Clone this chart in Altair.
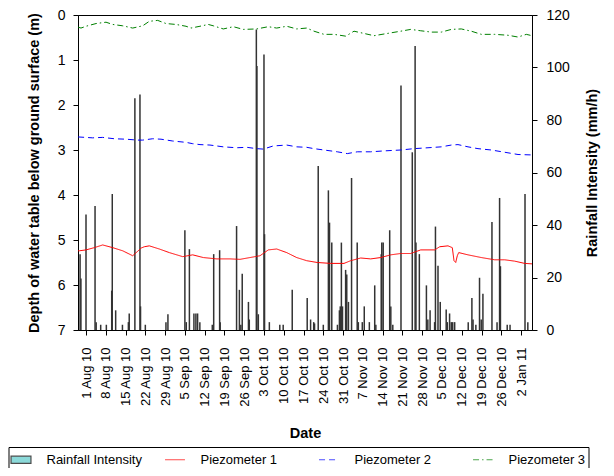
import altair as alt
import pandas as pd

BASE = pd.Timestamp("2010-08-01")

# ---- rainfall intensity bars (day offset from 1 Aug 2010, mm/h) ----
rain_day = [-2.1, -1.8, 0.0, 3.2, 3.6, 5.2, 7.2, 9.1, 9.3, 10.5, 12.9, 15.0, 15.3, 17.3, 19.1,
            19.3, 21.0, 28.3, 29.0, 35.0, 35.5, 36.6, 38.2, 38.9, 39.5, 40.3, 44.7, 45.2, 47.3,
            47.5, 53.3, 54.3, 54.8, 55.3, 57.5, 57.8, 60.3, 60.5, 61.0, 63.0, 63.2, 64.9, 68.6,
            69.8, 73.0, 78.3, 79.5, 80.6, 80.9, 82.2, 84.0, 85.8, 86.2, 87.0, 89.0, 89.7, 90.0,
            90.4, 90.8, 91.9, 92.3, 92.9, 94.0, 96.0, 96.4, 97.8, 98.5, 100.3, 102.2, 102.6,
            104.5, 104.7, 105.2, 107.5, 107.9, 108.6, 111.5, 115.5, 116.5, 116.8, 118.0, 120.5,
            121.0, 121.8, 123.4, 123.7, 124.6, 125.4, 127.5, 127.9, 128.7, 129.3, 129.8, 130.5,
            135.3, 136.6, 137.0, 138.0, 139.3, 139.9, 140.5, 143.7, 145.5, 146.4, 146.7, 149.1,
            150.1, 155.4, 156.4]
rain_mm = [28.9, 19.6, 44.0, 47.2, 3.0, 2.0, 2.0, 15.0, 51.8, 7.5, 2.0, 3.0, 6.3, 88.3, 89.7,
           9.0, 2.0, 3.0, 6.0, 38.0, 3.0, 30.8, 6.3, 6.3, 6.3, 3.0, 2.0, 28.9, 30.4,
           3.0, 39.6, 15.3, 2.0, 21.4, 10.7, 4.0, 114.5, 100.6, 6.0, 105.0, 36.5, 3.0, 2.0,
           2.0, 15.3, 12.2, 4.0, 3.0, 2.5, 62.5, 2.0, 53.2, 40.9, 33.3, 2.0, 7.5, 9.0,
           33.3, 9.0, 22.9, 21.1, 10.7, 57.9, 33.3, 3.0, 3.0, 9.0, 3.0, 17.0, 2.0,
           28.9, 33.3, 33.3, 38.0, 9.0, 2.0, 93.1, 67.7, 108.2, 33.3, 28.9, 17.0,
           4.0, 7.5, 3.0, 39.4, 24.5, 10.7, 7.8, 3.0, 6.3, 3.0, 3.0, 3.0,
           3.0, 12.2, 4.0, 2.0, 19.9, 4.0, 13.8, 41.1, 3.0, 50.3, 24.3, 2.0,
           2.0, 51.8, 3.0]

# ---- piezometer depths (m below ground) ----
p1_day = [-2.8, -2.37, 0, 2.94, 5.91, 9.45, 12.99, 16.53, 18.3, 19.47, 20.64, 22.41, 25.95,
          29.49, 34.23, 37.77, 41.52, 46.27, 50.97, 54.51, 58.05, 61.59, 64.53, 67.5, 71.04,
          74.58, 78.12, 81.88, 86.62, 91.33, 93.7, 97.24, 100.78, 104.32, 107.86, 111.4,
          114.94, 118.48, 121.06, 123.43, 125.2, 128.14, 129.66, 130.27, 130.87, 131.43,
          131.93, 135.22, 139.93, 144.67, 148.21, 151.75, 155.29, 157.88]
p1_depth = [5.24, 5.24, 5.22, 5.17, 5.11, 5.17, 5.24, 5.35, 5.25, 5.18, 5.15, 5.13, 5.20,
            5.28, 5.37, 5.33, 5.39, 5.42, 5.42, 5.43, 5.39, 5.35, 5.22, 5.20, 5.28,
            5.39, 5.46, 5.50, 5.52, 5.52, 5.46, 5.40, 5.42, 5.39, 5.33, 5.30,
            5.30, 5.22, 5.22, 5.22, 5.15, 5.13, 5.17, 5.46, 5.50, 5.35,
            5.28, 5.33, 5.39, 5.44, 5.44, 5.47, 5.52, 5.53]

p2_day = [-2.8, 2.37, 5.91, 10.02, 14.16, 18.3, 20.07, 23.61, 26.55, 30.69, 35.4, 37.77,
          40.35, 43.89, 48.6, 53.35, 56.88, 60.42, 62.76, 66.3, 71.04, 74.58, 78.12, 80.71,
          84.25, 88.96, 92.5, 96.04, 100.78, 105.49, 111.4, 116.11, 121.06, 125.77, 129.31,
          131.68, 135.22, 138.76, 143.47, 148.21, 152.92, 157.88]
p2_depth = [2.71, 2.73, 2.72, 2.75, 2.76, 2.78, 2.78, 2.75, 2.76, 2.80, 2.83, 2.86,
            2.88, 2.89, 2.93, 2.95, 2.94, 2.97, 2.98, 2.91, 2.89, 2.93, 2.94, 2.97,
            3.00, 3.04, 3.08, 3.04, 3.04, 3.02, 3.00, 2.97, 2.95, 2.93, 2.89,
            2.88, 2.93, 2.97, 3.00, 3.05, 3.10, 3.11]

p3_day = [-2.8, -1.77, 0, 3.54, 7.08, 9.45, 12.99, 16.53, 20.07, 22.41, 25.38, 28.32, 31.86,
          35.4, 37.17, 40.35, 43.29, 45.06, 48.6, 52.14, 55.68, 60.42, 64.53, 67.5, 71.04,
          74.58, 78.12, 80.71, 84.25, 87.79, 91.93, 94.87, 98.41, 101.95, 106.65, 111.4,
          114.94, 118.48, 122.23, 125.77, 129.31, 132.85, 136.39, 139.93, 144.67, 149.38,
          152.92, 155.86, 157.88]
p3_depth = [0.27, 0.29, 0.25, 0.19, 0.16, 0.21, 0.24, 0.29, 0.24, 0.14, 0.12, 0.19, 0.21,
            0.25, 0.29, 0.25, 0.21, 0.24, 0.31, 0.26, 0.32, 0.31, 0.26, 0.29, 0.25,
            0.31, 0.29, 0.36, 0.43, 0.43, 0.47, 0.36, 0.41, 0.46, 0.41, 0.36,
            0.32, 0.35, 0.38, 0.38, 0.32, 0.31, 0.36, 0.43, 0.43, 0.45,
            0.49, 0.43, 0.46]

tick_dates = ["2010-08-01", "2010-08-08", "2010-08-15", "2010-08-22", "2010-08-29",
              "2010-09-05", "2010-09-12", "2010-09-19", "2010-09-26", "2010-10-03",
              "2010-10-10", "2010-10-17", "2010-10-24", "2010-10-31", "2010-11-07",
              "2010-11-14", "2010-11-21", "2010-11-28", "2010-12-05", "2010-12-12",
              "2010-12-19", "2010-12-26", "2011-01-02"]
depth_ticks = [0, 1, 2, 3, 4, 5, 6, 7]
rain_ticks = [0, 20, 40, 60, 80, 100, 120]

series_names = ["Rainfall Intensity", "Piezometer 1", "Piezometer 2", "Piezometer 3"]
series_fill = ["#16b4b4", "transparent", "transparent", "transparent"]
series_stroke = ["#000000", "#ff0000", "#0000ff", "#008000"]
series_dash = [[1, 0], [1, 0], [6, 4], [6, 3, 1.5, 3]]
series_shape = ["M-1.15,-0.42H1.15V0.42H-1.15Z", "M-1.15,0H1.15", "M-1.15,0H1.15", "M-1.15,0H1.15"]

FONT = "Liberation Sans"


def to_dates(days):
    return (BASE + pd.to_timedelta(days, unit="D")).round("min")


rain_df = pd.DataFrame({"date": to_dates(rain_day), "rain": rain_mm})
line_df = pd.concat([
    pd.DataFrame({"date": to_dates(p1_day), "depth": p1_depth, "series": "Piezometer 1"}),
    pd.DataFrame({"date": to_dates(p2_day), "depth": p2_depth, "series": "Piezometer 2"}),
    pd.DataFrame({"date": to_dates(p3_day), "depth": p3_depth, "series": "Piezometer 3"}),
], ignore_index=True)
legend_df = pd.DataFrame({"series": series_names})


def dt(s, hours=0):
    t = pd.Timestamp(s)
    return alt.DateTime(year=t.year, month=t.month, date=t.day, hours=hours)


x_scale = alt.Scale(domain=[dt("2010-07-29", 4), dt("2011-01-05", 21)])
x_axis = alt.Axis(title="Date", values=[dt(s) for s in tick_dates], format="%-d %b %y",
                  labelAngle=-90, labelFontSize=13, labelPadding=12, titlePadding=20,
                  tickSize=5, grid=False)

leg = alt.Legend(title=None, orient="none", legendX=-69.5, legendY=432, direction="horizontal",
                 columns=4, gridAlign="all", columnPadding=20, labelOffset=16, symbolSize=300,
                 symbolStrokeWidth=1.2, labelFontSize=13, labelFont=FONT, labelColor="black",
                 strokeColor="black", padding=3, labelLimit=300)

stroke_scale = alt.Scale(domain=series_names, range=series_stroke)
dash_scale = alt.Scale(domain=series_names, range=series_dash)

dummy = alt.Chart(legend_df).mark_point(filled=True).transform_filter("false").encode(
    fill=alt.Fill("series:N", scale=alt.Scale(domain=series_names, range=series_fill), legend=leg),
    stroke=alt.Stroke("series:N", scale=stroke_scale, legend=leg),
    strokeDash=alt.StrokeDash("series:N", scale=dash_scale, legend=leg),
    shape=alt.Shape("series:N", scale=alt.Scale(domain=series_names, range=series_shape), legend=leg),
)

bars = alt.Chart(rain_df).mark_rule(color="#333333", strokeWidth=1.5, clip=True).encode(
    x=alt.X("date:T", scale=x_scale, axis=x_axis),
    y=alt.Y("rain:Q", scale=alt.Scale(domain=[0, 120], nice=False),
            axis=alt.Axis(orient="right", title="Rainfall Intensity (mm/h)", values=rain_ticks,
                          titleAngle=270, labelPadding=9, titlePadding=30, tickSize=5, grid=False)),
    y2=alt.datum(0),
)

lines = alt.Chart(line_df).mark_line(strokeWidth=1, clip=True).encode(
    x=alt.X("date:T", scale=x_scale, axis=x_axis),
    y=alt.Y("depth:Q", scale=alt.Scale(domain=[0, 7], reverse=True, nice=False),
            axis=alt.Axis(orient="left", title="Depth of water table below ground surface (m)",
                          values=depth_ticks, format="d", labelPadding=8, titlePadding=16,
                          tickSize=5, grid=False)),
    stroke=alt.Stroke("series:N", scale=stroke_scale, legend=leg),
    strokeDash=alt.StrokeDash("series:N", scale=dash_scale, legend=leg),
)

chart = (
    alt.layer(dummy, bars, lines)
    .resolve_scale(y="independent")
    .properties(width=454, height=315,
                padding={"left": 70, "top": 7, "right": 74, "bottom": 138},
                autosize=alt.AutoSizeParams(type="none"))
    .configure_view(stroke="black", strokeWidth=1)
    .configure_axis(labelFont=FONT, titleFont=FONT, labelFontSize=14, titleFontSize=14.5,
                    titleFontWeight="bold", labelColor="black", titleColor="black",
                    domainColor="black", tickColor="black", domainWidth=1, tickWidth=1)
)

chart.save("out.html", embed_options={"renderer": "svg", "actions": False})
